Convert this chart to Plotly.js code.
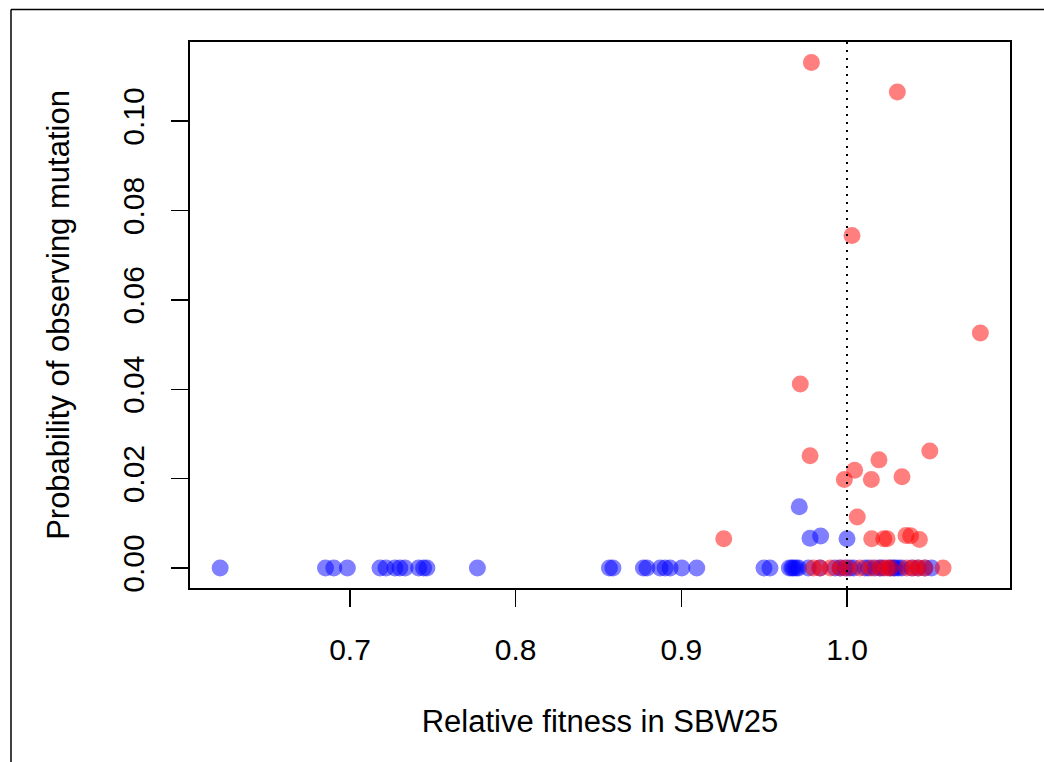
<!DOCTYPE html>
<html>
<head>
<meta charset="utf-8">
<script src="https://cdn.plot.ly/plotly-3.0.1.min.js"></script>
<style>
  html, body { margin: 0; padding: 0; background: #fff; }
  #chart { width: 1044px; height: 762px; }
</style>
</head>
<body>
<div id="chart"></div>
<script>
// Blue series (relative fitness, probability)
const blueX = [0.6216, 0.6852, 0.6902, 0.6984, 0.7181, 0.7217, 0.7271, 0.7301, 0.7332,
  0.7414, 0.7444, 0.7464, 0.7769, 0.8566, 0.8587, 0.8771, 0.8792, 0.8872, 0.8902, 0.8932,
  0.9003, 0.9093, 0.9499, 0.9535, 0.9652, 0.9667, 0.9677, 0.9692, 0.9707, 0.9767, 0.9837,
  0.9928, 0.9958, 0.9988, 1.0018, 1.0040, 1.0109, 1.0130, 1.0169, 1.0199, 1.0220, 1.0260,
  1.0280, 1.0290, 1.0310, 1.0330, 1.0390, 1.0430, 1.0470, 1.0510,
  0.9712, 0.9777, 0.9841, 1.0000];
const blueY = [0, 0, 0, 0, 0, 0, 0, 0, 0,
  0, 0, 0, 0, 0, 0, 0, 0, 0, 0, 0,
  0, 0, 0, 0, 0, 0, 0, 0, 0, 0, 0,
  0, 0, 0, 0, 0, 0, 0, 0, 0, 0, 0,
  0, 0, 0, 0, 0, 0, 0, 0,
  0.0137, 0.00664, 0.00716, 0.00656];

// Red series
const redX = [0.9797, 0.9837, 0.9900, 0.9960, 1.0000, 1.0078, 1.0150, 1.0200, 1.0240,
  1.0260, 1.0360, 1.0400, 1.0430, 1.0470, 1.0580,
  0.9785, 1.0304, 1.0030, 1.0805, 0.9718, 0.9777, 1.0500, 1.0193, 1.0046, 0.9984,
  1.0147, 1.0332, 1.0062, 0.9256, 1.0149, 1.0222, 1.0242, 1.0356, 1.0384, 1.0437];
const redY = [0, 0, 0, 0, 0, 0, 0, 0, 0,
  0, 0, 0, 0, 0, 0,
  0.1131, 0.1065, 0.0744, 0.0526, 0.0412, 0.0251, 0.0262, 0.0242, 0.0219, 0.0198,
  0.0198, 0.0204, 0.0114, 0.00656, 0.00656, 0.00656, 0.00656, 0.0073, 0.0072, 0.0064];

const xTicks = [0.7, 0.8, 0.9, 1.0];
const yTicks = [0.00, 0.02, 0.04, 0.06, 0.08, 0.10];
const refLineX = 1.0;

const font = 'Liberation Sans, Arial, sans-serif';

const traces = [
  { x: blueX, y: blueY, type: 'scatter', mode: 'markers', name: 'blue',
    marker: { color: 'rgba(0,0,255,0.5)', size: 17, line: { width: 0 } }, hoverinfo: 'x+y' },
  { x: redX, y: redY, type: 'scatter', mode: 'markers', name: 'red',
    marker: { color: 'rgba(255,0,0,0.5)', size: 17, line: { width: 0 } }, hoverinfo: 'x+y' }
];

const layout = {
  width: 1044, height: 762,
  margin: { l: 190, r: 34, t: 42, b: 174 },
  paper_bgcolor: '#fff', plot_bgcolor: '#fff',
  showlegend: false,
  font: { family: font, color: '#000', size: 26 },
  xaxis: {
    range: [0.6034, 1.0984], tickvals: xTicks, ticktext: xTicks.map(v => v.toFixed(1)),
    ticks: 'outside', ticklen: 17, tickwidth: 1.5, tickcolor: '#000',
    showline: true, mirror: true, linecolor: '#000', linewidth: 2,
    showgrid: false, zeroline: false, ticklabelstandoff: 17,
    tickfont: { size: 30, family: font },
    title: { text: 'Relative fitness in SBW25', font: { size: 31, family: font }, standoff: 45 }
  },
  yaxis: {
    range: [-0.00447, 0.1177], tickvals: yTicks, ticktext: yTicks.map(v => v.toFixed(2)),
    tickangle: -90,
    ticks: 'outside', ticklen: 17, tickwidth: 1.5, tickcolor: '#000',
    showline: true, mirror: true, linecolor: '#000', linewidth: 2,
    showgrid: false, zeroline: false, ticklabelstandoff: 15,
    tickfont: { size: 30, family: font },
    title: { text: 'Probability of observing mutation', font: { size: 31, family: font }, standoff: 38 }
  },
  shapes: [
    { type: 'line', xref: 'x', yref: 'paper', x0: refLineX, x1: refLineX, y0: 0, y1: 1,
      line: { color: '#000', width: 2, dash: '2px,6px' } },
    { type: 'line', xref: 'paper', yref: 'paper', x0: -0.2183, x1: 1.05, y0: 1.0595, y1: 1.0595,
      line: { color: '#000', width: 1.5 } },
    { type: 'line', xref: 'paper', yref: 'paper', x0: -0.2183, x1: -0.2183, y0: 1.0595, y1: -0.33,
      line: { color: '#000', width: 1.5 } }
  ]
};

Plotly.newPlot('chart', traces, layout, { displayModeBar: false, staticPlot: true });
</script>
</body>
</html>
